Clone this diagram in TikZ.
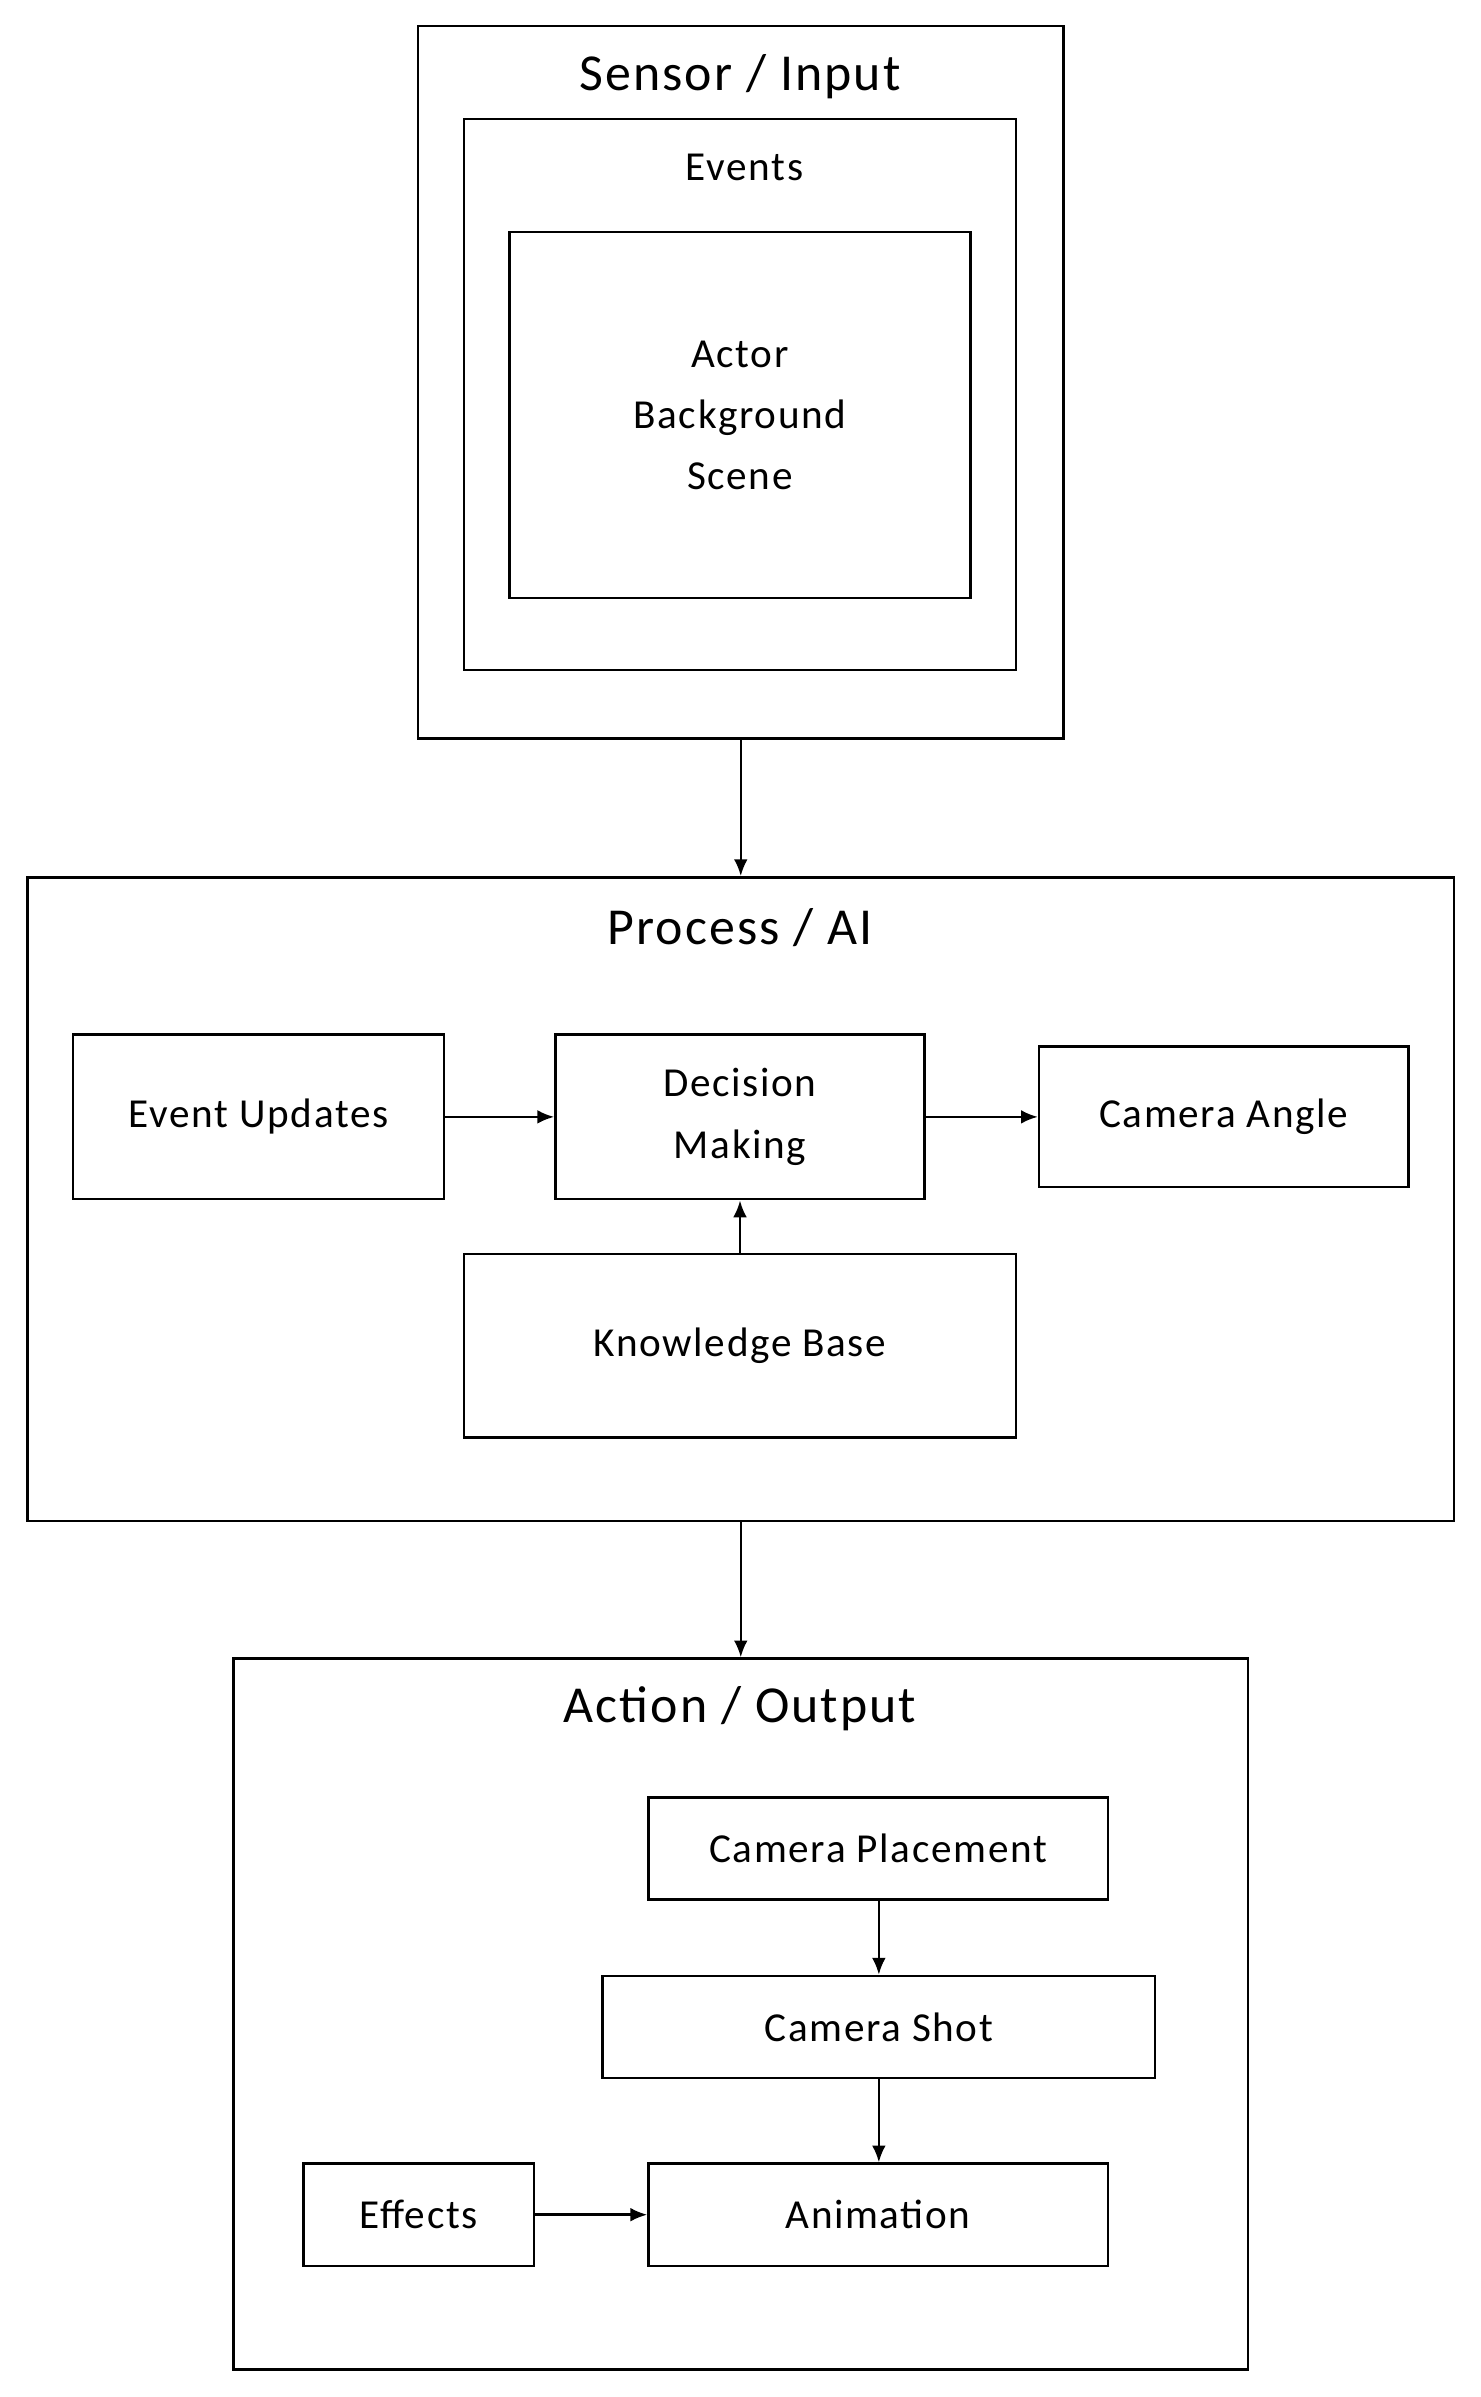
\documentclass[tikz,border=0pt]{standalone}
\usepackage{fontspec}
\setmainfont{Carlito}[LetterSpace=4]
\usetikzlibrary{arrows.meta}
\begin{document}
\begin{tikzpicture}[x=1pt,y=-1pt,
  box/.style={draw,line width=1.6pt,inner sep=0pt},
  lbl/.style={font=\fontsize{27}{40}\selectfont},
  ttl/.style={font=\fontsize{34}{40}\selectfont},
  arr/.style={line width=1.6pt,-{Latex[length=11pt,width=9pt]}}]
  \useasboundingbox (0,0) rectangle (970,1571);
  % Sensor / Input
  \node[box,minimum width=423pt,minimum height=467pt] (S) at (485.5,250.5) {};
  \node[box,minimum width=362pt,minimum height=361pt] (Ev) at (485,258.5) {};
  \node[box,minimum width=302pt,minimum height=240pt,align=center,lbl] (Act) at (485,272)
      {Actor\\Background\\Scene};
  \node[ttl] (St) at (485,50) {Sensor / Input};
  \node[lbl] (Evt) at (488,110) {Events};
  % Process / AI
  \node[box,minimum width=935pt,minimum height=422pt] (P) at (485.5,786) {};
  \node[ttl] (Pt) at (485,608) {Process / AI};
  \node[box,minimum width=243pt,minimum height=108pt,lbl] (EU) at (169.5,732) {Event Updates};
  \node[box,minimum width=242pt,minimum height=108pt,lbl,align=center] (DM) at (485,732) {Decision\\Making};
  \node[box,minimum width=242pt,minimum height=92pt,lbl] (CA) at (802,732) {Camera Angle};
  \node[box,minimum width=362pt,minimum height=120pt,lbl] (KB) at (485,882) {Knowledge Base};
  % Action / Output
  \node[box,minimum width=665pt,minimum height=466pt] (A) at (485.5,1320) {};
  \node[ttl] (At) at (485,1120) {Action / Output};
  \node[box,minimum width=301pt,minimum height=67pt,lbl] (CP) at (575.5,1211.5) {Camera Placement};
  \node[box,minimum width=362pt,minimum height=67pt,lbl] (CS) at (576,1328.5) {Camera Shot};
  \node[box,minimum width=301pt,minimum height=67pt,lbl] (An) at (575.5,1451.5) {Animation};
  \node[box,minimum width=151pt,minimum height=67pt,lbl] (Ef) at (274.5,1451.5) {Effects};
  % connectors
  \draw[arr] (S.south) -- (P.north);
  \draw[arr] (P.south) -- (A.north);
  \draw[arr] (EU) -- (DM);
  \draw[arr] (DM) -- (CA);
  \draw[arr] (KB) -- (DM);
  \draw[arr] (CP.south -| CS.north) -- (CS.north);
  \draw[arr] (CS.south) -- (CS.south |- An.north);
  \draw[arr] (Ef) -- (An);
\end{tikzpicture}
\end{document}
